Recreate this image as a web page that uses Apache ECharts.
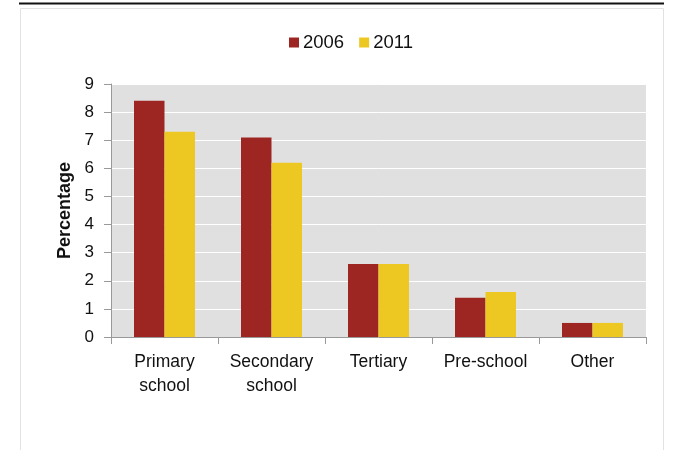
<!DOCTYPE html>
<html><head><meta charset="utf-8">
<script src="https://cdn.jsdelivr.net/npm/echarts@6/dist/echarts.min.js"></script>
<style>html,body{margin:0;padding:0;background:#fff}#c{width:675px;height:450px}</style>
</head><body><div id="c"></div>
<script>
const categories = ['Primary\nschool', 'Secondary\nschool', 'Tertiary', 'Pre-school', 'Other'];
const values2006 = [8.4, 7.1, 2.6, 1.4, 0.5];
const values2011 = [7.3, 6.2, 2.6, 1.6, 0.5];
const yTicks = [0, 1, 2, 3, 4, 5, 6, 7, 8, 9];

const font = '"Liberation Sans", Arial, Helvetica, sans-serif';
const chart = echarts.init(document.getElementById('c'), null, {renderer: 'canvas'});
chart.setOption({
  animation: false,
  textStyle: {fontFamily: font},
  graphic: [
    {type: 'rect', shape: {x: 20.5, y: 8.5, width: 643, height: 460}, style: {fill: 'none', stroke: '#e2e2e2', lineWidth: 1}, z: 0},
    {type: 'line', shape: {x1: 19, y1: 3.5, x2: 664, y2: 3.5}, style: {stroke: '#111', lineWidth: 2}}
  ],
  legend: {
    top: 28, left: 284,
    itemWidth: 10, itemHeight: 10, itemGap: 15,
    icon: 'rect',
    textStyle: {fontSize: 18.5, color: '#111', fontFamily: font, padding: [0, 0, 0, -1]},
    data: ['2006', '2011']
  },
  grid: {left: 111, right: 29, top: 84, bottom: 113, show: true, backgroundColor: '#e0e0e0', borderWidth: 0},
  xAxis: {
    type: 'category', data: categories,
    axisLine: {lineStyle: {color: '#999', width: 1}},
    axisTick: {show: true, interval: 0, length: 7, lineStyle: {color: '#999'}},
    axisLabel: {interval: 0, fontSize: 17.5, color: '#111', margin: 13, lineHeight: 24, fontFamily: font}
  },
  yAxis: {
    type: 'value', min: yTicks[0], max: yTicks[yTicks.length - 1], interval: 1,
    name: 'Percentage', nameLocation: 'middle', nameGap: 37,
    nameTextStyle: {fontSize: 18, fontWeight: 'bold', color: '#111', fontFamily: font},
    axisLine: {show: true, lineStyle: {color: '#999', width: 1}},
    axisTick: {show: true, length: 7, lineStyle: {color: '#999'}},
    axisLabel: {fontSize: 17, color: '#111', margin: 17, fontFamily: font},
    splitLine: {show: true, lineStyle: {color: '#ffffff', width: 1}}
  },
  series: [
    {name: '2006', type: 'bar', data: values2006, barWidth: '28.5%', barGap: '0%', itemStyle: {color: '#9e2622'}},
    {name: '2011', type: 'bar', data: values2011, barWidth: '28.5%', itemStyle: {color: '#edc822'}}
  ]
});
</script></body></html>
